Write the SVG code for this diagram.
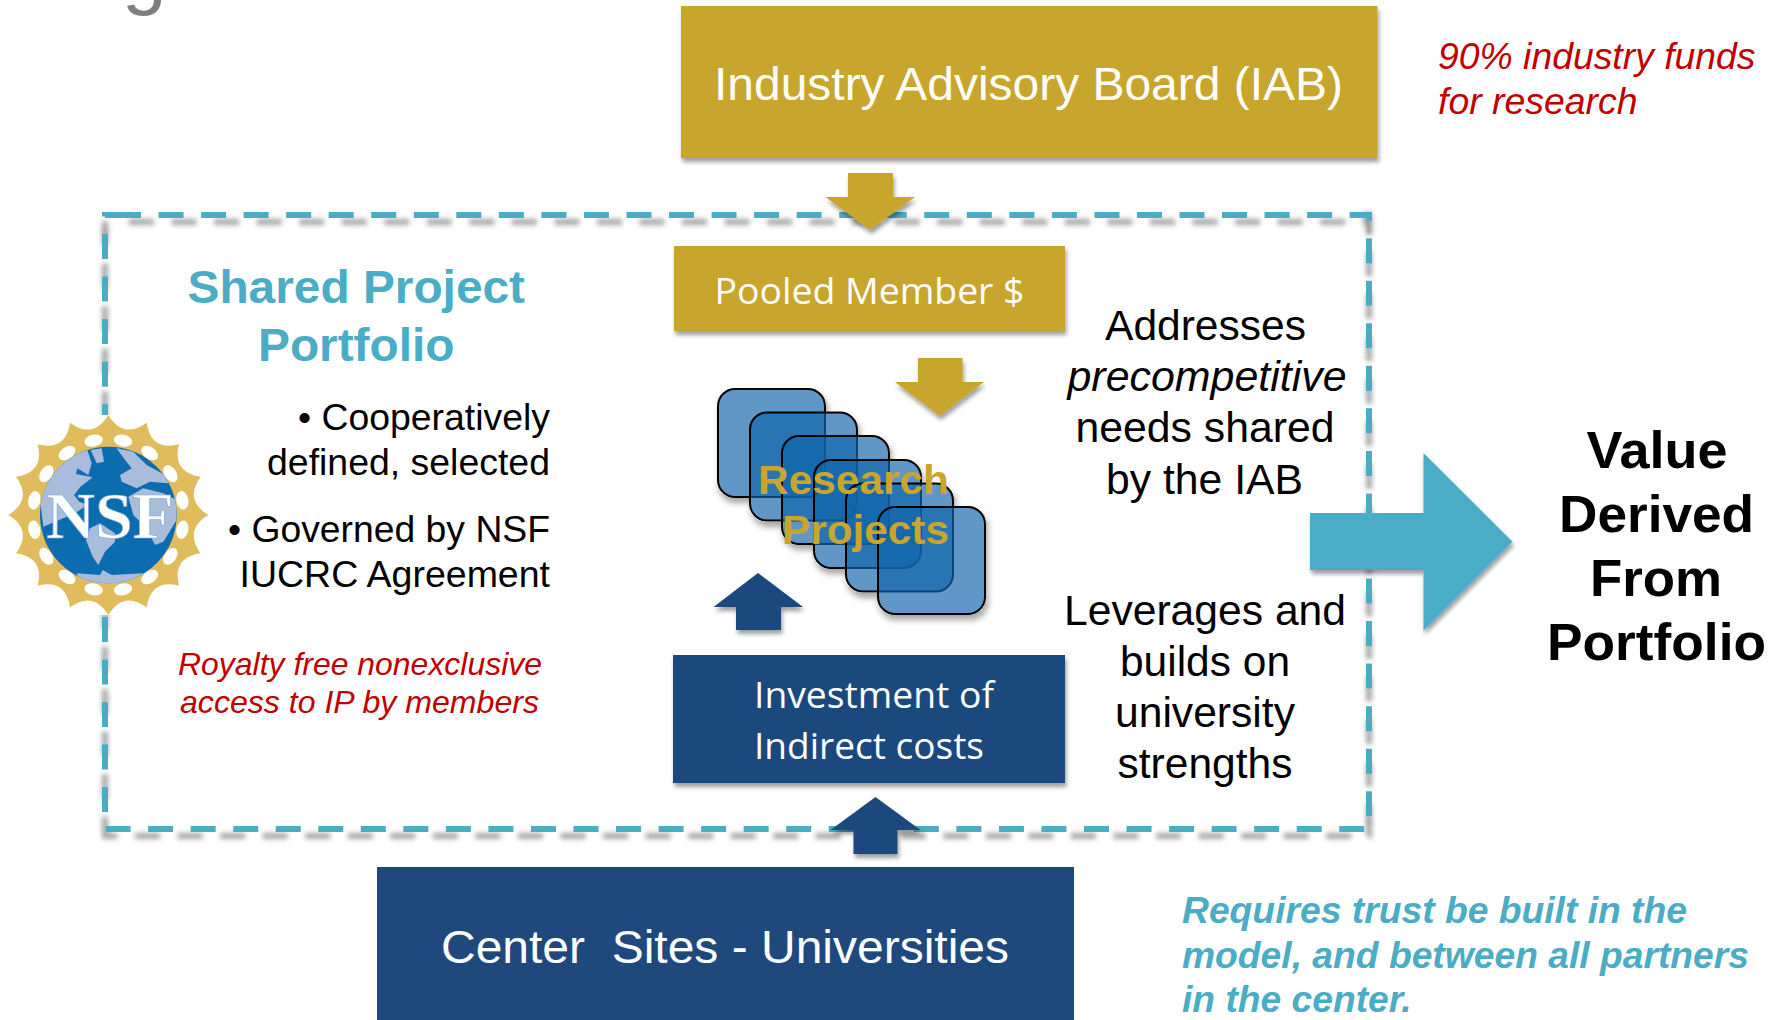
<svg xmlns="http://www.w3.org/2000/svg" width="1785" height="1020" viewBox="0 0 1785 1020">
<style>
text{font-family:"Liberation Sans",Arial,sans-serif}
.w{fill:#fff;font-family:"Open Sans","Liberation Sans",sans-serif}
.wa{fill:#fff}
.b{fill:#000;font-size:42px}
.r{fill:#C00000;font-style:italic}
.v{fill:#000;font-weight:700;font-size:52px}
.t{fill:#4BACC6;font-weight:700}
.gold{fill:#C8A62D}
.navy{fill:#1F497D}
.sq{fill:#0B64AA;fill-opacity:.67;stroke:#000;stroke-width:2}
.dash{fill:none;stroke-width:6;stroke-dasharray:25 17.54}
</style>
<defs>
<filter id="sh" x="-15%" y="-15%" width="130%" height="140%"><feDropShadow dx="1.5" dy="4" stdDeviation="2.2" flood-color="#000" flood-opacity=".38"/></filter>
<filter id="blur" x="-3%" y="-3%" width="106%" height="106%"><feGaussianBlur stdDeviation="2.6"/></filter>
<filter id="sqsh" x="-10%" y="-10%" width="125%" height="125%">
<feColorMatrix in="SourceAlpha" type="matrix" values="0 0 0 0 0 0 0 0 0 0 0 0 0 0 0 0 0 0 20 0" result="solid"/>
<feOffset in="solid" dx="2" dy="5" result="off"/><feGaussianBlur in="off" stdDeviation="3" result="bl"/>
<feComposite in="bl" in2="solid" operator="out" result="outer"/>
<feColorMatrix in="outer" type="matrix" values="0 0 0 0 0 0 0 0 0 0 0 0 0 0 0 0 0 0 .35 0" result="s"/>
<feMerge><feMergeNode in="s"/><feMergeNode in="SourceGraphic"/></feMerge>
</filter>
<clipPath id="globe"><circle cx="325" cy="345" r="205"/></clipPath>
<clipPath id="hband"><rect x="90" y="205" width="1300" height="30"/><rect x="90" y="820" width="1300" height="32"/></clipPath>
<clipPath id="vband"><rect x="98" y="212" width="14" height="612"/><rect x="1362" y="212" width="14" height="612"/></clipPath>
<path id="frame" d="M116 215H1369V829H105V215H116"/>
</defs>
<g id="title-fragment"><text x="122" y="-1" font-size="80" fill="#7F7F7F">g</text></g>
<g id="connectors">
<g id="portfolio-boundary">
<g filter="url(#blur)" stroke="#808080" stroke-opacity=".7">
<g clip-path="url(#hband)"><use href="#frame" class="dash" stroke-dashoffset="-13" transform="translate(0 7)"/></g>
<g clip-path="url(#vband)"><use href="#frame" class="dash" stroke-dashoffset="-13"/></g>
</g>
<use href="#frame" class="dash" stroke="#4BACC6"/>
</g>
<path id="arrow-iab-pooled" class="gold" filter="url(#sh)" d="M848 173H893V197H915L870 230L825.5 197H848Z"/>
<path id="arrow-pooled-projects" class="gold" filter="url(#sh)" d="M918 358H962.5V382H984L939.5 416L895 382H918Z"/>
<path id="arrow-indirect-projects" class="navy" filter="url(#sh)" d="M758 573L803 607H781V630H736V607H713.5Z"/>
<path id="arrow-sites-indirect" class="navy" filter="url(#sh)" d="M875.5 797L920.5 830H897.5V854H853.5V830H830.5Z"/>
<path id="arrow-value" fill="#4BACC6" filter="url(#sh)" d="M1310 513H1423.5V453L1512.5 541.7L1423.5 630.7V570H1310Z"/>
</g>
<g id="node-iab"><rect class="gold" filter="url(#sh)" x="681" y="6" width="696.500" height="152"/><text class="wa" x="714" y="99.500" font-size="47" textLength="629" lengthAdjust="spacingAndGlyphs">Industry Advisory Board (IAB)</text></g>
<g id="node-pooled"><rect class="gold" filter="url(#sh)" x="674" y="246" width="391" height="85"/><text class="w" x="714.500" y="304" font-size="37" textLength="310" lengthAdjust="spacingAndGlyphs">Pooled Member $</text></g>
<g id="node-research-projects">
<g filter="url(#sqsh)">
<rect class="sq" x="718" y="389" width="107" height="108" rx="17"/>
<rect class="sq" x="750" y="412.500" width="107" height="108" rx="17"/>
<rect class="sq" x="782" y="436" width="107" height="108" rx="17"/>
<rect class="sq" x="814" y="460" width="107" height="108" rx="17"/>
<rect class="sq" x="846" y="483.500" width="107" height="108" rx="17"/>
<rect class="sq" x="878" y="507" width="107" height="107" rx="17"/>
</g>
<text x="758" y="493.500" font-size="41" font-weight="700" fill="#C8A62D" textLength="191" lengthAdjust="spacingAndGlyphs">Research</text>
<text x="782" y="544" font-size="41" font-weight="700" fill="#C8A62D" textLength="167" lengthAdjust="spacingAndGlyphs">Projects</text>
</g>
<g id="node-indirect"><rect class="navy" filter="url(#sh)" x="673" y="655" width="392" height="128"/><text class="w" x="754" y="708" font-size="37" textLength="240" lengthAdjust="spacingAndGlyphs">Investment of</text><text class="w" x="754" y="759" font-size="37" textLength="230" lengthAdjust="spacingAndGlyphs">Indirect costs</text></g>
<g id="node-sites"><rect class="navy" x="377" y="867" width="697" height="153"/><text class="wa" x="441" y="962.500" font-size="47" textLength="568" lengthAdjust="spacingAndGlyphs" xml:space="preserve">Center  Sites - Universities</text></g>
<g id="nsf-logo"><rect x="6" y="415" width="204" height="200" fill="#fff"/>
<g transform="translate(0 400) scale(.33333)">
<path fill="#E0BC5C" d="M325 45Q370 119 440 68Q453 154 537 133Q516 217 602 230Q551 300 625 345Q551 390 602 460Q516 473 537 557Q453 536 440 622Q370 571 325 645Q280 571 210 622Q197 536 113 557Q134 473 48 460Q99 390 25 345Q99 300 48 230Q134 217 113 133Q197 154 210 68Q280 119 325 45Z"/>
<g fill="#fff"><ellipse cx="281" cy="122" rx="28" ry="18" transform="rotate(-11 281 122)"/><ellipse cx="369" cy="122" rx="28" ry="18" transform="rotate(11 369 122)"/><ellipse cx="449" cy="159" rx="28" ry="18" transform="rotate(34 449 159)"/><ellipse cx="511" cy="221" rx="28" ry="18" transform="rotate(56 511 221)"/><ellipse cx="547" cy="301" rx="28" ry="18" transform="rotate(79 547 301)"/><ellipse cx="547" cy="389" rx="28" ry="18" transform="rotate(101 547 389)"/><ellipse cx="511" cy="469" rx="28" ry="18" transform="rotate(124 511 469)"/><ellipse cx="449" cy="531" rx="28" ry="18" transform="rotate(146 449 531)"/><ellipse cx="369" cy="568" rx="28" ry="18" transform="rotate(169 369 568)"/><ellipse cx="281" cy="568" rx="28" ry="18" transform="rotate(191 281 568)"/><ellipse cx="201" cy="531" rx="28" ry="18" transform="rotate(214 201 531)"/><ellipse cx="139" cy="469" rx="28" ry="18" transform="rotate(236 139 469)"/><ellipse cx="103" cy="389" rx="28" ry="18" transform="rotate(259 103 389)"/><ellipse cx="103" cy="301" rx="28" ry="18" transform="rotate(281 103 301)"/><ellipse cx="139" cy="221" rx="28" ry="18" transform="rotate(304 139 221)"/><ellipse cx="201" cy="159" rx="28" ry="18" transform="rotate(326 201 159)"/></g>
<circle cx="325" cy="345" r="205" fill="#0B6CB0"/>
<g clip-path="url(#globe)" fill="#A9BCDC">
<path d="M120 300L160 210L205 165L262 150L275 190L265 225L232 205L228 222L278 232L240 262L222 285L238 305L262 315L225 340L130 380Z"/>
<path d="M272 150L305 145L312 185L290 190Z"/>
<path d="M350 145L400 155L440 195L495 225L505 250L450 245L410 265L365 245L360 225L395 205L375 180Z"/>
<path d="M385 290L430 265L490 280L530 300L530 360L490 425L465 435L440 385L400 345Z"/>
<path d="M258 420L270 385L300 370L345 400L345 425L315 455L295 495L278 470Z"/>
<path d="M230 520L300 525L308 510L335 525L430 520L400 570L250 570Z"/>
</g>
<text x="138" y="414" font-size="196" font-weight="700" textLength="384" lengthAdjust="spacingAndGlyphs" fill="#fff" stroke="#7CA8D4" stroke-width="2" style="font-family:'Liberation Serif',serif">NSF</text>
</g></g>
<g id="label-portfolio">
<text class="t" x="187.500" y="302.500" font-size="47" textLength="337.500" lengthAdjust="spacingAndGlyphs">Shared Project</text>
<text class="t" x="258" y="361" font-size="47" textLength="196.500" lengthAdjust="spacingAndGlyphs">Portfolio</text>
<g font-size="37">
<text x="298" y="430" textLength="252" lengthAdjust="spacingAndGlyphs">• Cooperatively</text>
<text x="267" y="475" textLength="283" lengthAdjust="spacingAndGlyphs">defined, selected</text>
<text x="228" y="541.500" textLength="322" lengthAdjust="spacingAndGlyphs">• Governed by NSF</text>
<text x="239.500" y="586.500" textLength="310.500" lengthAdjust="spacingAndGlyphs">IUCRC Agreement</text>
</g>
<text class="r" x="178" y="675" font-size="32" textLength="364" lengthAdjust="spacingAndGlyphs">Royalty free nonexclusive</text>
<text class="r" x="180" y="712.500" font-size="32" textLength="359" lengthAdjust="spacingAndGlyphs">access to IP by members</text>
</g>
<g id="label-funds">
<text class="r" x="1438" y="69" font-size="37" textLength="317.500" lengthAdjust="spacingAndGlyphs">90% industry funds</text>
<text class="r" x="1438" y="114" font-size="37" textLength="199.500" lengthAdjust="spacingAndGlyphs">for research</text>
</g>
<g id="label-addresses">
<text class="b" x="1105" y="340" textLength="201" lengthAdjust="spacingAndGlyphs">Addresses</text>
<text class="b" x="1067.500" y="391" font-style="italic" textLength="279" lengthAdjust="spacingAndGlyphs">precompetitive</text>
<text class="b" x="1075.500" y="442" textLength="259" lengthAdjust="spacingAndGlyphs">needs shared</text>
<text class="b" x="1106" y="494" textLength="197" lengthAdjust="spacingAndGlyphs">by the IAB</text>
</g>
<g id="label-leverages">
<text class="b" x="1064" y="625" textLength="282" lengthAdjust="spacingAndGlyphs">Leverages and</text>
<text class="b" x="1120" y="676" textLength="170" lengthAdjust="spacingAndGlyphs">builds on</text>
<text class="b" x="1115" y="727" textLength="180" lengthAdjust="spacingAndGlyphs">university</text>
<text class="b" x="1117.500" y="778" textLength="175" lengthAdjust="spacingAndGlyphs">strengths</text>
</g>
<g id="label-value">
<text class="v" x="1586.500" y="467.500" textLength="141" lengthAdjust="spacingAndGlyphs">Value</text>
<text class="v" x="1559" y="531.500" textLength="195" lengthAdjust="spacingAndGlyphs">Derived</text>
<text class="v" x="1590" y="595.500" textLength="132" lengthAdjust="spacingAndGlyphs">From</text>
<text class="v" x="1547" y="659.500" textLength="219" lengthAdjust="spacingAndGlyphs">Portfolio</text>
</g>
<g id="label-trust" font-style="italic">
<text class="t" x="1182" y="922.500" font-size="36" textLength="505" lengthAdjust="spacingAndGlyphs">Requires trust be built in the</text>
<text class="t" x="1182" y="967.500" font-size="36" textLength="567" lengthAdjust="spacingAndGlyphs">model, and between all partners</text>
<text class="t" x="1182" y="1012" font-size="36" textLength="229.500" lengthAdjust="spacingAndGlyphs">in the center.</text>
</g>
</svg>
